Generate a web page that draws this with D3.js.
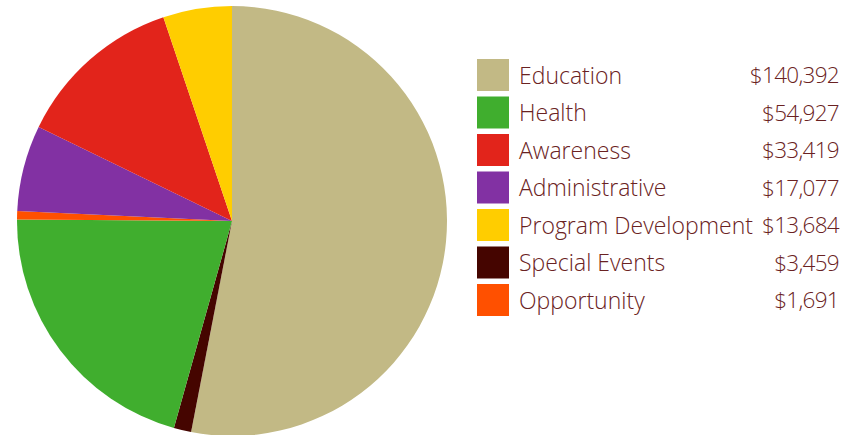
<!DOCTYPE html>
<meta charset="utf-8">
<script src="https://d3js.org/d3.v7.min.js"></script>
<style>
body { margin: 0; background: #fff; }
text { font-family: "Open Sans", "Noto Sans", sans-serif; font-weight: 300; }
</style>
<svg id="chart" width="857" height="435"></svg>
<script>
// slices in the order they go round the pie, clockwise from 12 o'clock
const pieNames  = ["Education", "Special Events", "Health", "Opportunity", "Administrative", "Awareness", "Program Development"]
const pieValues = [140392, 3459, 54927, 1691, 17077, 33419, 13684]
const pieColors = ["#c2b985", "#450500", "#40ae2e", "#ff5000", "#8231a3", "#e2241b", "#ffcd00"]

// legend order
const legendNames = ["Education", "Health", "Awareness", "Administrative", "Program Development", "Special Events", "Opportunity"]

const svg = d3.select("#chart")
const cx = 232, cy = 221, r = 215

const color = d3.scaleOrdinal().domain(pieNames).range(pieColors)
const value = d3.scaleOrdinal().domain(pieNames).range(pieValues)

const pie = d3.pie().sort(null).value(d => d.v)
const arc = d3.arc().innerRadius(0).outerRadius(r)
const slices = pie(pieNames.map((n, i) => ({ n: n, v: pieValues[i] })))

svg.append("g")
    .attr("transform", `translate(${cx},${cy})`)
  .selectAll("path")
  .data(slices)
  .join("path")
    .attr("d", arc)
    .attr("fill", d => color(d.data.n))

// legend
const y = d3.scaleBand().domain(legendNames).range([59, 316]).paddingInner(0.1467)
const fmt = d3.format(",")

const rows = svg.append("g").selectAll("g")
  .data(legendNames)
  .join("g")
    .attr("transform", d => `translate(0,${y(d)})`)

rows.append("rect")
    .attr("x", 477)
    .attr("width", 32)
    .attr("height", y.bandwidth())
    .attr("fill", d => color(d))

rows.append("text")
    .attr("x", 519)
    .attr("y", y.bandwidth() / 2 + 8.5)
    .attr("font-size", 23)
    .attr("fill", "#6a2222")
    .text(d => d)

rows.append("text")
    .attr("x", 839)
    .attr("y", y.bandwidth() / 2 + 8.5)
    .attr("text-anchor", "end")
    .attr("font-size", 22.5)
    .attr("letter-spacing", "-0.7px")
    .attr("fill", "#6a2222")
    .text(d => "$" + fmt(value(d)))
</script>
